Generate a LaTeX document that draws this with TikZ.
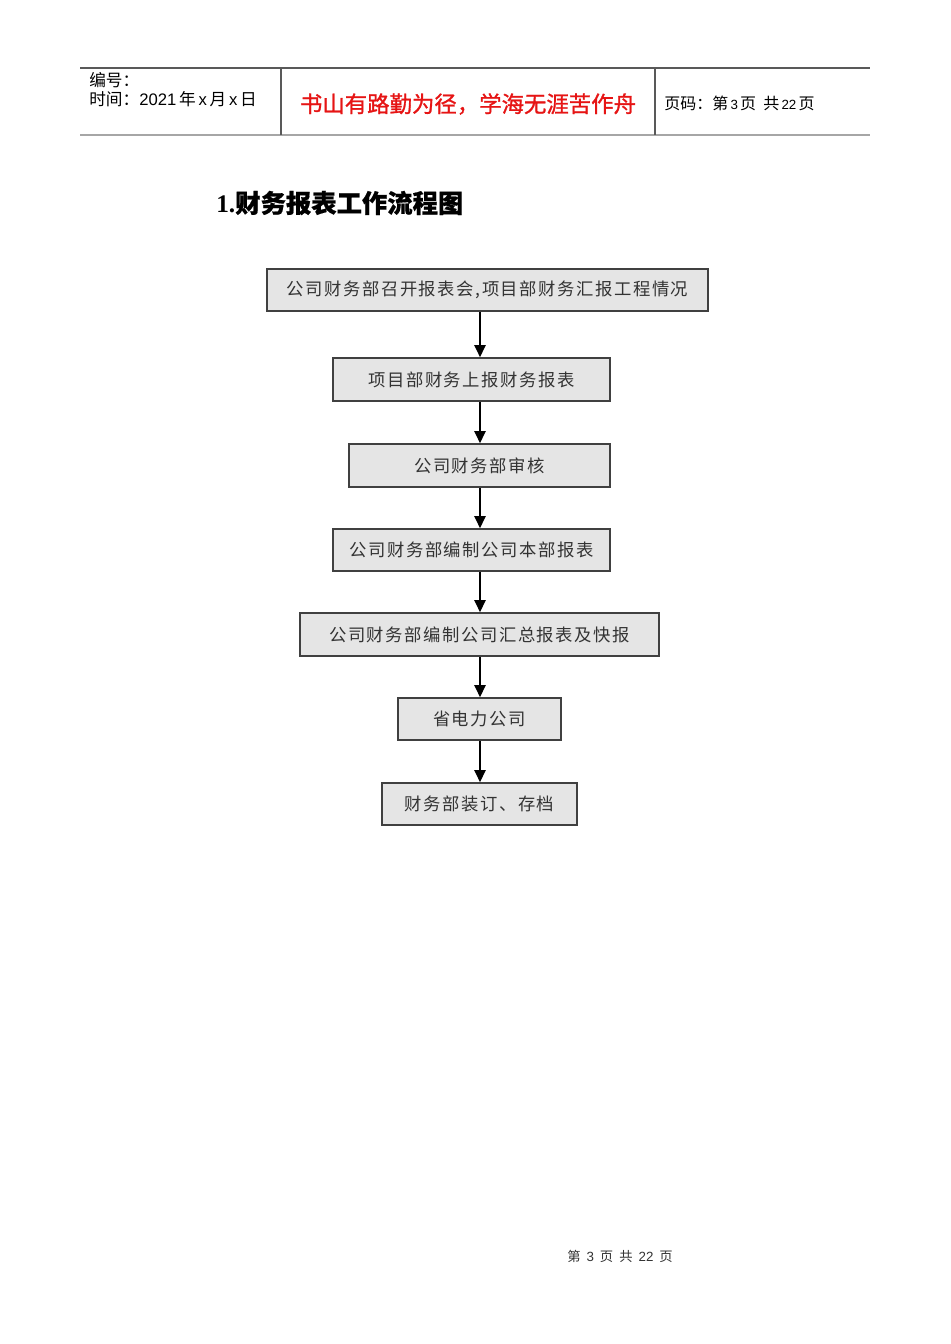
\documentclass[tikz,border=0pt]{standalone}
\usepackage{fontspec}
\setmainfont{Liberation Serif}
\newfontfamily\cjk{Noto Sans CJK SC}
\newfontfamily\cjkbox[LetterSpace=9]{Noto Sans CJK SC}
\newfontfamily\cjkb[FakeBold=1.2]{Noto Sans CJK SC}
\newfontfamily\cjkt[FakeBold=0.6]{Noto Sans CJK SC}
\newfontfamily\hdsans{Liberation Sans}
\usetikzlibrary{arrows.meta}
\definecolor{boxfill}{gray}{0.90}
\definecolor{boxline}{gray}{0.25}
\definecolor{hdline}{gray}{0.35}
\tikzset{
  flowbox/.style={draw=boxline, line width=1.3pt, fill=boxfill, inner sep=0pt,
    font=\cjkbox\fontsize{13pt}{15pt}\selectfont, text=black!80},
  flowarr/.style={draw=black, line width=1.1pt, -{Triangle[length=9pt,width=8.5pt]}},
  hd/.style={draw=hdline, line width=0.8pt},
}
\begin{document}
\begin{tikzpicture}[x=0.75pt,y=-0.75pt]
\useasboundingbox[fill=white] (0,0) rectangle (950,1344);
% header
\draw[hd] (80,68) -- (870,68);
\draw[draw=gray!70, line width=1.5pt] (80,135.5) -- (870,135.5);
\draw[hd] (281,68) -- (281,135);
\draw[hd] (655,68) -- (655,135);
\node[anchor=west, inner sep=0pt, font=\cjk\fontsize{12.5pt}{14pt}\selectfont] (h1) at (89,80) {编号：};
\node[anchor=west, inner sep=0pt, font=\cjk\fontsize{12.5pt}{14pt}\selectfont] (h2) at (89,99) {时间：{\hdsans 2021\,}年{\hdsans\,x\,}月{\hdsans\,x\,}日};
\node[inner sep=0pt, font=\cjkb\fontsize{16.8pt}{18pt}\selectfont, text={rgb,255:red,230;green,20;blue,20}] (h3) at (468,104) {书山有路勤为径，学海无涯苦作舟};
\node[anchor=west, inner sep=0pt, font=\cjk\fontsize{12pt}{14pt}\selectfont] (h4) at (664,103) {页码：第{\hdsans\fontsize{10pt}{12pt}\selectfont\,3\,}页\ \ 共{\hdsans\fontsize{10pt}{12pt}\selectfont\,22\,}页};
% title
\node[anchor=west, inner sep=0pt, font=\fontsize{19pt}{21pt}\selectfont\bfseries] (title) at (216,203) {1.{\cjkt 财务报表工作流程图}};
% boxes
\node[flowbox, minimum width=330.75pt, minimum height=31.5pt] (b1) at (487.5,290) {公司财务部召开报表会,项目部财务汇报工程情况};
\node[flowbox, minimum width=207.75pt, minimum height=32.25pt] (b2) at (471.5,379.5) {项目部财务上报财务报表};
\node[flowbox, minimum width=195.75pt, minimum height=32.25pt] (b3) at (479.5,465.5) {公司财务部审核};
\node[flowbox, minimum width=207.75pt, minimum height=31.5pt] (b4) at (471.5,550) {公司财务部编制公司本部报表};
\node[flowbox, minimum width=269.25pt, minimum height=32.25pt] (b5) at (479.5,634.5) {公司财务部编制公司汇总报表及快报};
\node[flowbox, minimum width=122.25pt, minimum height=31.5pt] (b6) at (479.5,719) {省电力公司};
\node[flowbox, minimum width=146.25pt, minimum height=31.5pt] (b7) at (479.5,804) {财务部装订、存档};
\coordinate (ax) at (480,0);
\draw[flowarr] (b1.south -| ax) -- (b2.north -| ax);
\draw[flowarr] (b2.south -| ax) -- (b3.north -| ax);
\draw[flowarr] (b3.south -| ax) -- (b4.north -| ax);
\draw[flowarr] (b4.south -| ax) -- (b5.north -| ax);
\draw[flowarr] (b5.south -| ax) -- (b6.north -| ax);
\draw[flowarr] (b6.south -| ax) -- (b7.north -| ax);
% footer
\node[inner sep=0pt, font=\cjk\fontsize{10pt}{12pt}\selectfont, text=black!80] (foot) at (620,1256) {第\ \ {\hdsans 3}\ \ 页\ \ 共\ \ {\hdsans 22}\ \ 页};
\end{tikzpicture}
\end{document}
